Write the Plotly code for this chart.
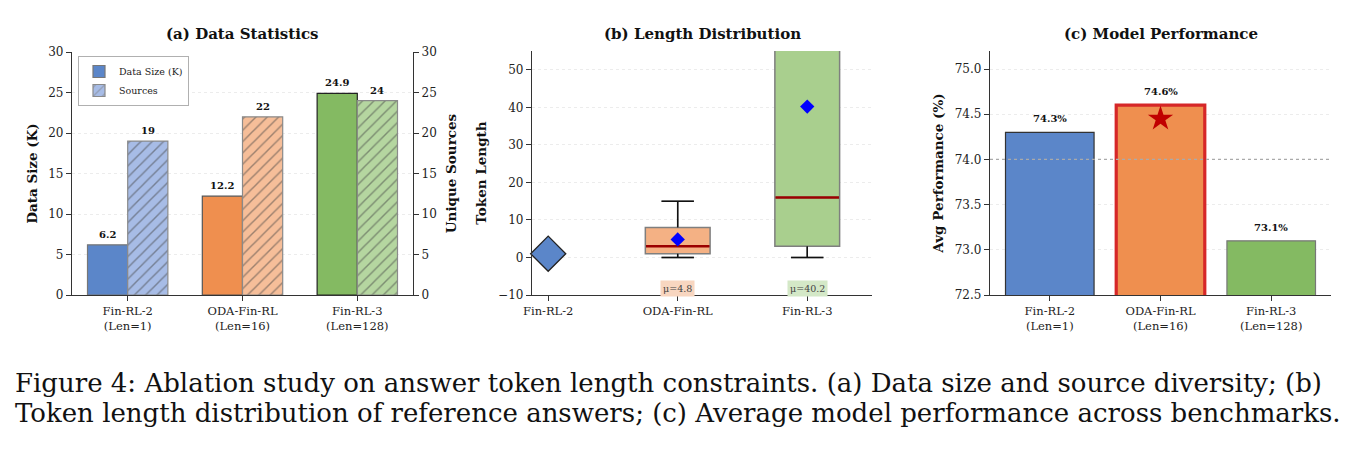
import plotly.graph_objects as go

# ---------------- data ----------------
models = ["Fin-RL-2", "ODA-Fin-RL", "Fin-RL-3"]
len_labels = ["(Len=1)", "(Len=16)", "(Len=128)"]
data_size_k = [6.2, 12.2, 24.9]
unique_sources = [19, 22, 24]

# token length distributions (box stats)
box_models = ["ODA-Fin-RL", "Fin-RL-3"]
box_q1 = [1, 3]
box_median = [3, 16]
box_q3 = [8, 62]
box_low = [0, 0]
box_high = [15, 150]
box_mean = [4.8, 40.2]
single_len_value = 1  # Fin-RL-2 fixed length

avg_perf = [74.3, 74.6, 73.1]
perf_reference = 74.0
best_star_value = 74.45

caption_lines = [
    "Figure 4: Ablation study on answer token length constraints. (a) Data size and source diversity; (b)",
    "Token length distribution of reference answers; (c) Average model performance across benchmarks.",
]

# ---------------- styles ----------------
FONT = "DejaVu Serif"
main_colors = ["#5B86C9", "#EF8F4F", "#84BA62"]
light_colors = ["#A7BCE6", "#F6BE99", "#B5D6A0"]
box_fill = ["#F4B184", "#A9CF8E"]
mu_bg = ["#F8D6C0", "#D4E8C7"]
AX = "#333333"
W, H = 1360, 456


def px_x(p):
    return p / W


def px_y(p):
    return (H - p) / H


fig = go.Figure()
ticktext2 = [f"{m}<br>{l}" for m, l in zip(models, len_labels)]
idx = list(range(len(models)))

# ---------------- panel (a) ----------------
bw = 0.35
fig.add_trace(go.Bar(
    x=[i - bw / 2 for i in idx], y=data_size_k, width=bw,
    marker=dict(color=main_colors, line=dict(color=["#777", "#555", "#222"], width=1.2)),
    name="Data Size (K)", xaxis="x", yaxis="y", showlegend=True,
))
fig.add_trace(go.Bar(
    x=[i + bw / 2 for i in idx], y=unique_sources, width=bw,
    marker=dict(color=light_colors, line=dict(color="#8a8a8a", width=1.2),
                pattern=dict(shape="/", fgcolor="#7a7a7a", size=8, solidity=0.18, fillmode="overlay")),
    name="Sources", xaxis="x", yaxis="y2", showlegend=True,
))

annotations = []
for i in idx:
    annotations.append(dict(x=i - bw / 2, y=data_size_k[i], xref="x", yref="y", text=f"<b>{data_size_k[i]}</b>",
                            showarrow=False, yanchor="bottom", yshift=3, font=dict(family=FONT, size=10, color="#111")))
    annotations.append(dict(x=i + bw / 2, y=unique_sources[i], xref="x", yref="y2", text=f"<b>{unique_sources[i]}</b>",
                            showarrow=False, yanchor="bottom", yshift=3, font=dict(family=FONT, size=10, color="#111")))

# ---------------- panel (b) ----------------
box_pos = [models.index(m) for m in box_models]
for k, pos in enumerate(box_pos):
    fig.add_trace(go.Box(
        x=[pos], q1=[box_q1[k]], median=[box_median[k]], q3=[box_q3[k]],
        lowerfence=[box_low[k]], upperfence=[box_high[k]],
        width=0.5, whiskerwidth=0.5, fillcolor=box_fill[k],
        line=dict(color="#7f7f7f", width=1.5), xaxis="x2", yaxis="y3",
        showlegend=False, hoverinfo="skip",
    ))
    # whiskers (black)
    fig.add_trace(go.Scatter(
        x=[pos, pos, None, pos, pos, None, pos - 0.125, pos + 0.125, None, pos - 0.125, pos + 0.125],
        y=[box_low[k], box_q1[k], None, box_q3[k], box_high[k], None, box_low[k], box_low[k], None, box_high[k], box_high[k]],
        mode="lines", line=dict(color="#111", width=1.5), xaxis="x2", yaxis="y3", showlegend=False, hoverinfo="skip",
    ))
    # median (dark red)
    fig.add_trace(go.Scatter(
        x=[pos - 0.245, pos + 0.245], y=[box_median[k], box_median[k]],
        mode="lines", line=dict(color="#9B0000", width=2.5), xaxis="x2", yaxis="y3", showlegend=False, hoverinfo="skip",
    ))
    annotations.append(dict(x=pos, y=-8.2, xref="x2", yref="y3", text=f"μ={box_mean[k]}", showarrow=False,
                            font=dict(family=FONT, size=9.5, color="#444"), bgcolor=mu_bg[k], borderpad=2))

fig.add_trace(go.Scatter(
    x=box_pos, y=box_mean, mode="markers",
    marker=dict(symbol="diamond", size=11, color="#0000FF"),
    xaxis="x2", yaxis="y3", showlegend=False, hoverinfo="skip",
))
fig.add_trace(go.Scatter(
    x=[models.index("Fin-RL-2")], y=[single_len_value], mode="markers",
    marker=dict(symbol="diamond", size=27, color=main_colors[0], line=dict(color="#222", width=1.3)),
    xaxis="x2", yaxis="y3", showlegend=False, hoverinfo="skip", cliponaxis=False,
))

# ---------------- panel (c) ----------------
fig.add_trace(go.Bar(
    x=idx, y=avg_perf, width=0.8,
    marker=dict(color=main_colors, line=dict(color=["#333", "#D62728", "#777"], width=[1.2, 3.2, 1.2])),
    xaxis="x3", yaxis="y4", showlegend=False,
))
fig.add_trace(go.Scatter(
    x=[avg_perf.index(max(avg_perf))], y=[best_star_value], mode="markers",
    marker=dict(symbol="star", size=19, color="#C00000"),
    xaxis="x3", yaxis="y4", showlegend=False,
))
for i in idx:
    annotations.append(dict(x=i, y=avg_perf[i], xref="x3", yref="y4", text=f"<b>{avg_perf[i]}%</b>",
                            showarrow=False, yanchor="bottom", yshift=6, font=dict(family=FONT, size=10, color="#111")))

shapes = [dict(type="line", xref="x3 domain", yref="y4", x0=0, x1=1, y0=perf_reference, y1=perf_reference,
               line=dict(color="#aaaaaa", width=1.2, dash="dot"), layer="above")]

# titles
titles = ["(a) Data Statistics", "(b) Length Distribution", "(c) Model Performance"]
for t, xr in zip(titles, ["x", "x2", "x3"]):
    annotations.append(dict(x=0.5, y=px_y(34), xref=f"{xr} domain", yref="paper", text=f"<b>{t}</b>",
                            showarrow=False, yanchor="middle", font=dict(family=FONT, size=15, color="#111")))

# caption
for line, ypix in zip(caption_lines, [383, 413]):
    annotations.append(dict(x=px_x(13), y=px_y(ypix), xref="paper", yref="paper", text=line, showarrow=False,
                            xanchor="left", yanchor="middle", font=dict(family="DejaVu Serif", size=26, color="#111")))

tickfont_y = dict(family=FONT, size=12, color="#222")
tickfont_x = dict(family=FONT, size=11.5, color="#222")
common_x = dict(showline=True, linecolor=AX, linewidth=1.3, ticks="outside", ticklen=5, tickcolor=AX,
                showgrid=False, zeroline=False, tickfont=tickfont_x, automargin=False)
common_y = dict(showline=True, linecolor=AX, linewidth=1.3, ticks="outside", ticklen=5, tickcolor=AX,
                showgrid=True, gridcolor="#ececec", griddash="dot", zeroline=False, tickfont=tickfont_y,
                automargin=False)
title_font = dict(family=FONT, size=13.5, color="#111")

fig.update_layout(
    width=W, height=H, margin=dict(l=0, r=0, t=0, b=0),
    paper_bgcolor="white", plot_bgcolor="white", barmode="overlay",
    xaxis=dict(domain=[px_x(72), px_x(413)], range=[-0.485, 2.485], tickvals=idx, ticktext=ticktext2,
               anchor="y", **common_x),
    yaxis=dict(domain=[px_y(295), px_y(52)], range=[0, 30], dtick=5, anchor="x",
               title=dict(text="<b>Data Size (K)</b>", font=title_font, standoff=7), **common_y),
    yaxis2=dict(overlaying="y", side="right", anchor="x", range=[0, 30], dtick=5, showline=True, linecolor=AX,
                linewidth=1.3, ticks="outside", ticklen=5, tickcolor=AX, showgrid=False, zeroline=False,
                tickfont=tickfont_y, automargin=False,
                title=dict(text="<b>Unique Sources</b>", font=title_font, standoff=10)),
    xaxis2=dict(domain=[px_x(532), px_x(872)], range=[-0.125, 2.5], tickvals=idx, ticktext=models,
                anchor="y3", **common_x),
    yaxis3=dict(domain=[px_y(295), px_y(51)], range=[-10, 55], dtick=10, anchor="x2",
                title=dict(text="<b>Token Length</b>", font=title_font, standoff=8), **common_y),
    xaxis3=dict(domain=[px_x(990), px_x(1331)], range=[-0.54, 2.54], tickvals=idx, ticktext=ticktext2,
                anchor="y4", **common_x),
    yaxis4=dict(domain=[px_y(295), px_y(51)], range=[72.5, 75.2], dtick=0.5, tickformat=".1f", anchor="x3",
                title=dict(text="<b>Avg Performance (%)</b>", font=title_font, standoff=8), **common_y),
    legend=dict(x=px_x(78), y=px_y(56), xanchor="left", yanchor="top", bgcolor="white",
                bordercolor="#b0b0b0", borderwidth=1, font=dict(family=FONT, size=9.5, color="#222"),
                tracegroupgap=0, itemwidth=30),
    annotations=annotations, shapes=shapes,
)

fig.write_html("out.html")
